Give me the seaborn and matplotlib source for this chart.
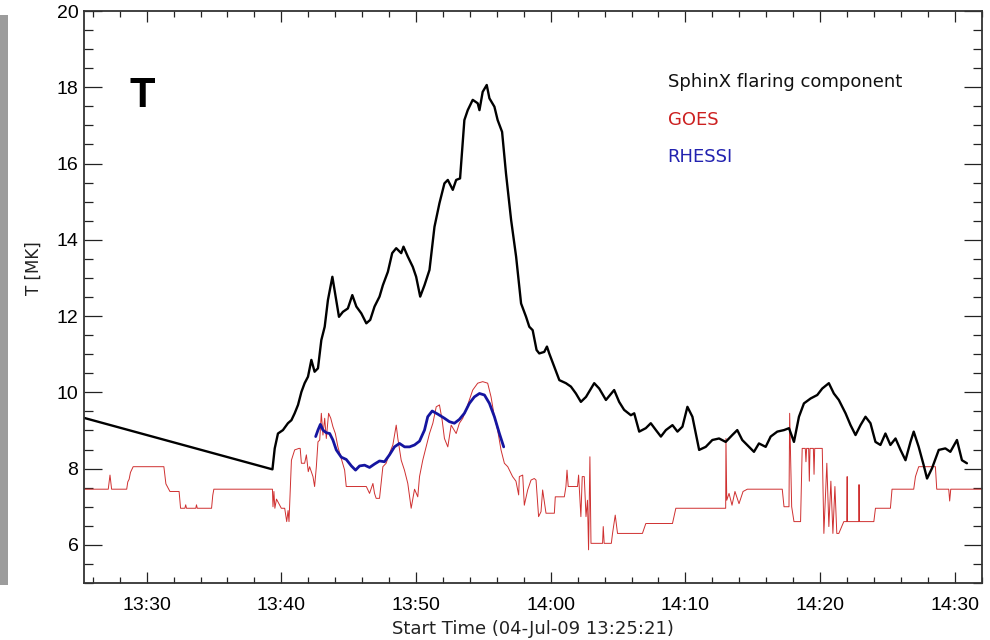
import matplotlib
matplotlib.use("Agg")
import matplotlib.pyplot as plt
import seaborn as sns
import pandas as pd
from matplotlib.ticker import MultipleLocator, FuncFormatter
from matplotlib.patches import Rectangle

sns.set_theme(style="ticks")
plt.rcParams['font.family'] = ['Liberation Sans', 'DejaVu Sans']

# time axis: minutes after 13:00 UT (start 13:25:21, span 4000 s)
x_start = 25.35
x_end = 92.02
x_major_ticks = [30, 40, 50, 60, 70, 80, 90]
y_major_ticks = [6, 8, 10, 12, 14, 16, 18, 20]

# SphinX flaring component temperature [MK]
sphinx_t = [25.35, 39.34, 39.51, 39.75, 40.12, 40.49, 40.75, 40.99, 41.24, 41.49,
            41.73, 41.98, 42.23, 42.47, 42.72, 42.97, 43.22, 43.46, 43.79, 44.03,
            44.28, 44.57, 44.94, 45.27, 45.57, 45.94, 46.31, 46.60, 46.92, 47.29,
            47.54, 47.91, 48.23, 48.53, 48.90, 49.07, 49.39, 49.76, 50.01, 50.31,
            50.63, 51.00, 51.37, 51.74, 52.11, 52.36, 52.73, 52.98, 53.27, 53.59,
            53.84, 54.21, 54.58, 54.71, 54.95, 55.25, 55.45, 55.82, 56.06, 56.39,
            56.68, 57.06, 57.43, 57.80, 58.17, 58.41, 58.66, 58.95, 59.15, 59.52,
            59.72, 59.89, 60.64, 61.13, 61.50, 61.87, 62.24, 62.62, 63.23, 63.60,
            64.10, 64.71, 65.08, 65.45, 65.95, 66.20, 66.57, 67.06, 67.43, 67.81,
            68.18, 68.55, 69.04, 69.41, 69.78, 70.15, 70.52, 71.02, 71.51, 72.00,
            72.50, 72.99, 73.48, 73.85, 74.22, 74.72, 75.09, 75.46, 75.96, 76.33,
            76.82, 77.32, 77.69, 78.06, 78.43, 78.80, 79.30, 79.79, 80.16, 80.65,
            81.02, 81.39, 81.89, 82.26, 82.63, 83.00, 83.37, 83.74, 84.11, 84.48,
            84.85, 85.22, 85.60, 85.97, 86.34, 86.71, 86.95, 87.32, 87.69, 87.94,
            88.31, 88.81, 89.30, 89.67, 90.16, 90.53, 90.90]
sphinx_T = [9.33, 7.98, 8.53, 8.92, 9.01, 9.19, 9.27, 9.45, 9.67, 10.01,
            10.24, 10.41, 10.85, 10.54, 10.63, 11.37, 11.72, 12.42, 13.03, 12.51,
            11.98, 12.11, 12.20, 12.55, 12.25, 12.07, 11.81, 11.90, 12.25, 12.51,
            12.81, 13.16, 13.65, 13.78, 13.65, 13.82, 13.56, 13.29, 13.03, 12.51,
            12.81, 13.21, 14.34, 14.96, 15.48, 15.57, 15.31, 15.57, 15.61, 17.14,
            17.40, 17.67, 17.58, 17.40, 17.88, 18.06, 17.71, 17.49, 17.14, 16.83,
            15.74, 14.52, 13.56, 12.33, 11.98, 11.72, 11.63, 11.11, 11.02, 11.06,
            11.20, 11.02, 10.32, 10.24, 10.15, 9.97, 9.75, 9.88, 10.24, 10.10,
            9.80, 10.06, 9.75, 9.54, 9.40, 9.45, 8.97, 9.06, 9.19, 9.01,
            8.84, 9.01, 9.14, 8.97, 9.10, 9.62, 9.36, 8.49, 8.57, 8.75,
            8.79, 8.70, 8.88, 9.01, 8.75, 8.57, 8.44, 8.66, 8.57, 8.84,
            8.97, 9.01, 9.06, 8.70, 9.36, 9.71, 9.84, 9.93, 10.10, 10.24,
            9.97, 9.80, 9.45, 9.14, 8.88, 9.14, 9.36, 9.19, 8.70, 8.62,
            8.92, 8.62, 8.79, 8.49, 8.22, 8.70, 8.97, 8.57, 8.09, 7.74,
            8.01, 8.49, 8.53, 8.44, 8.75, 8.22, 8.14]

# GOES temperature [MK]
goes_t = [25.35, 27.15, 27.28, 27.40, 28.52, 28.60, 28.70, 28.80, 29.00, 31.28,
          31.43, 31.73, 32.41, 32.52, 32.84, 32.90, 32.96, 33.65, 33.70, 33.76,
          34.82, 34.91, 34.99, 39.34, 39.38, 39.45, 39.52, 39.64, 40.00, 40.25,
          40.40, 40.50, 40.57, 40.75, 40.99, 41.31, 41.40, 41.49, 41.73, 41.86,
          42.00, 42.10, 42.35, 42.47, 42.60, 42.72, 42.85, 42.97, 43.09, 43.22,
          43.34, 43.51, 43.67, 43.83, 44.01, 44.20, 44.45, 44.70, 44.82, 46.31,
          46.55, 46.80, 46.92, 47.04, 47.29, 47.54, 47.78, 48.03, 48.28, 48.53,
          48.65, 48.90, 49.14, 49.39, 49.64, 49.89, 50.13, 50.26, 50.50, 50.75,
          51.00, 51.25, 51.50, 51.74, 51.94, 52.11, 52.36, 52.61, 52.98, 53.22,
          53.47, 53.72, 53.96, 54.21, 54.58, 54.95, 55.32, 55.57, 55.82, 56.06,
          56.31, 56.56, 56.81, 57.17, 57.42, 57.62, 57.67, 57.92, 58.04, 58.29,
          58.54, 58.78, 58.91, 59.10, 59.28, 59.40, 59.65, 60.27, 60.34, 61.01,
          61.13, 61.21, 61.30, 61.99, 62.07, 62.24, 62.34, 62.49, 62.62, 62.73,
          62.81, 62.91, 62.99, 63.85, 63.90, 63.97, 64.50, 64.59, 64.79, 64.96,
          66.81, 67.06, 69.04, 69.29, 72.99, 73.01, 73.07, 73.24, 73.46, 73.68,
          73.98, 74.28, 74.60, 77.19, 77.32, 77.69, 77.74, 77.89, 78.06, 78.55,
          78.67, 78.90, 78.95, 79.00, 79.15, 79.20, 79.25, 79.50, 79.55, 79.60,
          80.16, 80.28, 80.50, 80.65, 80.80, 80.95, 81.10, 81.24, 81.39, 81.76,
          81.98, 82.01, 82.03, 82.87, 82.89, 82.92, 83.99, 84.11, 85.22, 85.34,
          86.95, 87.08, 87.32, 88.56, 88.66, 89.55, 89.62, 89.70, 92.02]
goes_T = [7.46, 7.46, 7.83, 7.46, 7.46, 7.65, 7.72, 7.90, 8.05, 8.05,
          7.60, 7.40, 7.40, 6.96, 6.96, 7.05, 6.96, 6.96, 7.05, 6.96,
          6.96, 7.30, 7.46, 7.46, 7.00, 7.40, 6.96, 7.20, 6.96, 6.96,
          6.61, 6.90, 6.61, 8.22, 8.49, 8.53, 8.53, 8.14, 8.14, 8.36,
          7.92, 8.05, 7.79, 7.53, 8.05, 8.70, 8.75, 9.45, 8.88, 9.32,
          8.79, 9.45, 9.32, 9.10, 8.92, 8.57, 8.27, 7.96, 7.53, 7.53,
          7.35, 7.61, 7.35, 7.22, 7.22, 8.05, 8.14, 8.40, 8.62, 9.14,
          8.79, 8.22, 7.96, 7.61, 6.96, 7.46, 7.26, 7.79, 8.22, 8.57,
          8.92, 9.19, 9.62, 9.67, 9.27, 8.79, 8.57, 9.14, 8.92, 9.19,
          9.32, 9.54, 9.80, 10.06, 10.24, 10.28, 10.24, 9.88, 9.36, 9.01,
          8.49, 8.14, 8.05, 7.79, 7.67, 7.31, 7.79, 7.83, 7.04, 7.44,
          7.70, 7.74, 7.70, 6.74, 6.87, 7.44, 6.83, 6.83, 7.26, 7.26,
          7.53, 7.96, 7.53, 7.53, 7.83, 6.74, 7.79, 7.79, 6.74, 7.17,
          5.87, 8.31, 6.04, 6.04, 6.48, 6.04, 6.04, 6.30, 6.78, 6.30,
          6.30, 6.56, 6.56, 6.96, 6.96, 8.79, 7.17, 7.35, 7.04, 7.40,
          7.08, 7.40, 7.46, 7.46, 7.00, 7.00, 9.45, 7.00, 6.61, 6.61,
          8.53, 8.53, 8.18, 8.53, 8.53, 7.67, 8.53, 8.53, 7.85, 8.53,
          8.53, 6.30, 8.14, 6.48, 7.67, 6.30, 7.53, 6.30, 6.30, 6.61,
          6.61, 7.79, 6.61, 6.61, 7.58, 6.61, 6.61, 6.96, 6.96, 7.46,
          7.46, 7.79, 8.05, 8.05, 7.46, 7.46, 7.15, 7.46, 7.46]

# RHESSI temperature [MK]
rhessi_t = [42.55, 42.72, 42.90, 43.09, 43.34, 43.59, 43.83, 44.08, 44.45, 44.82,
            45.20, 45.51, 45.81, 46.18, 46.55, 46.92, 47.29, 47.66, 48.03, 48.40,
            48.77, 49.15, 49.52, 49.89, 50.26, 50.63, 50.87, 51.20, 51.61, 52.11,
            52.48, 52.85, 53.22, 53.59, 53.96, 54.33, 54.71, 55.08, 55.45, 55.82,
            56.19, 56.51]
rhessi_T = [8.84, 9.01, 9.16, 9.01, 8.94, 8.92, 8.75, 8.49, 8.30, 8.24,
            8.07, 7.96, 8.07, 8.09, 8.03, 8.12, 8.20, 8.18, 8.36, 8.57,
            8.66, 8.57, 8.57, 8.62, 8.72, 9.01, 9.36, 9.51, 9.43, 9.32,
            9.23, 9.19, 9.29, 9.45, 9.71, 9.88, 9.97, 9.93, 9.71, 9.36,
            8.92, 8.57]

W, H = 990, 640
fig = plt.figure(figsize=(W / 100, H / 100), dpi=100)
fig.patch.set_facecolor('white')
ax = fig.add_axes([84 / W, 57 / H, 898 / W, 572 / H])
ax.set_facecolor('white')

# grey strip at left edge (crop artefact of the original figure)
fig.patches.append(Rectangle((0, 55 / H), 8 / W, 570 / H, transform=fig.transFigure,
                             facecolor='#9c9c9c', edgecolor='none', zorder=0))

goes_df = pd.DataFrame({'t': goes_t, 'T': goes_T})
sphinx_df = pd.DataFrame({'t': sphinx_t, 'T': sphinx_T})
rhessi_df = pd.DataFrame({'t': rhessi_t, 'T': rhessi_T})

sns.lineplot(data=goes_df, x='t', y='T', ax=ax, color='#cf3030', lw=0.7,
             estimator=None, sort=False)
sns.lineplot(data=sphinx_df, x='t', y='T', ax=ax, color='black', lw=1.7,
             estimator=None, sort=False)
sns.lineplot(data=rhessi_df, x='t', y='T', ax=ax, color='#1515a0', lw=2.0,
             estimator=None, sort=False)

ax.set_xlim(x_start, x_end)
ax.set_ylim(5, 20)
ax.set_xticks(x_major_ticks)
ax.xaxis.set_minor_locator(MultipleLocator(2))
ax.set_yticks(y_major_ticks)
ax.yaxis.set_minor_locator(MultipleLocator(0.5))
ax.xaxis.set_major_formatter(FuncFormatter(lambda v, p: f"{13 + int(round(v)) // 60}:{int(round(v)) % 60:02d}"))
ax.yaxis.set_major_formatter(FuncFormatter(lambda v, p: f"{int(v)}"))

for s in ax.spines.values():
    s.set_linewidth(1.3)
    s.set_color('#333333')
    s.set_visible(True)

ax.tick_params(axis='x', which='major', direction='in', length=8, width=0.9,
               top=True, bottom=True, labelsize=14, pad=10, colors='#222222')
ax.tick_params(axis='x', which='minor', direction='in', length=4.2, width=0.9,
               top=True, bottom=True, colors='#222222')
ax.tick_params(axis='y', which='major', direction='in', length=13, width=0.9,
               left=True, right=True, labelsize=14, pad=4, colors='#222222')
ax.tick_params(axis='y', which='minor', direction='in', length=6.5, width=0.9,
               left=True, right=True, colors='#222222')
for lab in ax.get_xticklabels() + ax.get_yticklabels():
    lab.set_color('black')

ax.set_xlabel('Start Time (04-Jul-09 13:25:21)', fontsize=13,
              family=['DejaVu Sans'], color='#222222')
ax.xaxis.set_label_coords(0.5, -0.064)
ax.set_ylabel('T [MK]', fontsize=12, family=['DejaVu Sans'], color='#222222')
ax.yaxis.set_label_coords(-0.046, 0.55)

ax.text(0.065, 0.852, 'T', transform=ax.transAxes, fontsize=30, fontweight='bold',
        ha='center', va='center', color='black')
ax.text(0.650, 0.876, 'SphinX flaring component', transform=ax.transAxes,
        fontsize=13, family=['DejaVu Sans'], ha='left', va='center', color='#111111')
ax.text(0.650, 0.809, 'GOES', transform=ax.transAxes, fontsize=13,
        family=['DejaVu Sans'], ha='left', va='center', color='#cc2020')
ax.text(0.650, 0.745, 'RHESSI', transform=ax.transAxes, fontsize=13,
        family=['DejaVu Sans'], ha='left', va='center', color='#2222b0')

fig.savefig('out.png', dpi=100)
